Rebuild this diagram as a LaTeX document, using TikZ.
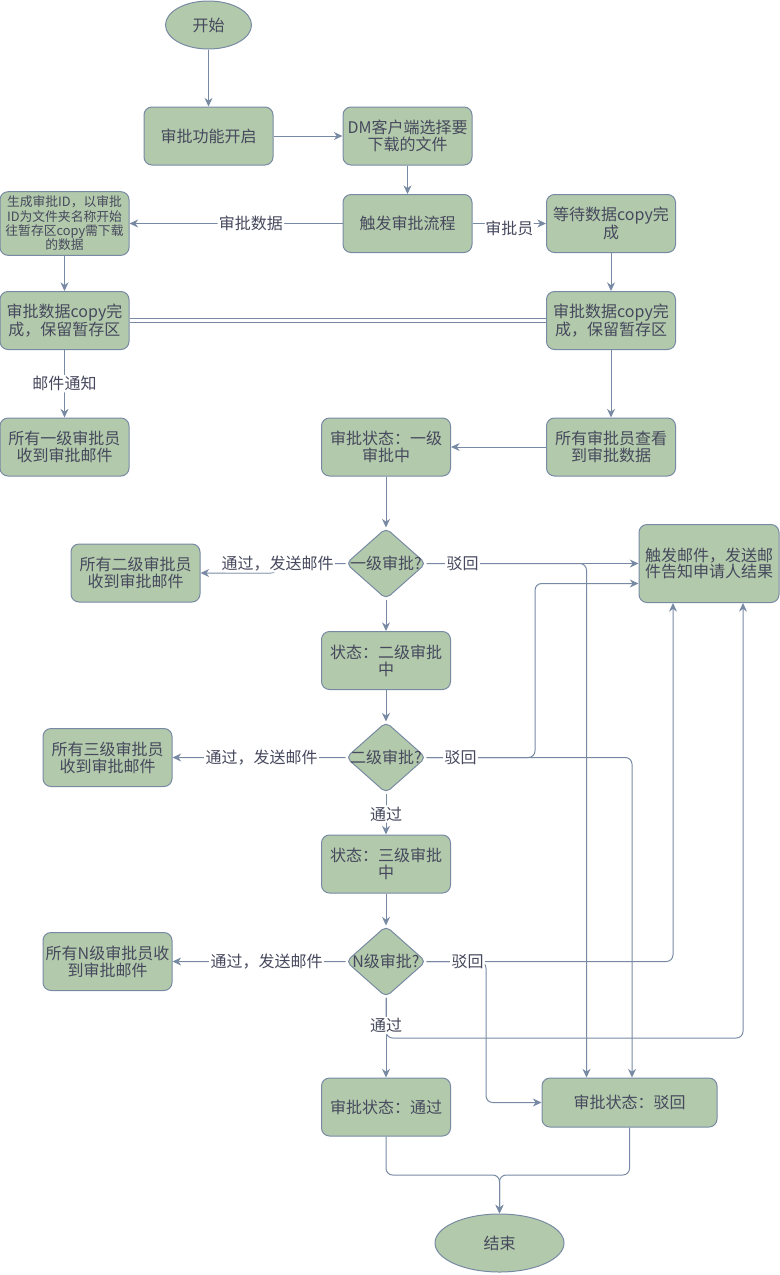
\documentclass[tikz,border=0pt]{standalone}
\usepackage{fontspec}
\setmainfont{Noto Sans CJK SC}
\usetikzlibrary{shapes.geometric,arrows.meta,calc}

\definecolor{boxfill}{HTML}{B2C9AB}
\definecolor{boxline}{HTML}{788AA3}
\definecolor{boxtext}{HTML}{46495D}

\begin{document}
\begin{tikzpicture}[x=0.75pt,y=-0.75pt,
  box/.style={draw=boxline,fill=boxfill,text=boxtext,rounded corners=6pt,line width=0.75pt,
    minimum width=96.75pt,minimum height=43.5pt,inner xsep=0pt,align=center,
    font=\fontsize{12pt}{12.6pt}\selectfont},
  oval/.style={box,shape=ellipse,inner sep=0pt},
  dia/.style={box,shape=diamond,minimum width=60pt,minimum height=53.25pt,inner sep=0pt,
    rounded corners=4pt,label={[text=boxtext,font=\fontsize{12pt}{12.6pt}\selectfont]center:#1}},
  lbl/.style={fill=white,text=boxtext,inner sep=1pt,font=\fontsize{12pt}{12.6pt}\selectfont},
  arr/.style={draw=boxline,line width=0.75pt,rounded corners=5pt,-{Stealth[length=6.5pt,width=6pt]}}]
\useasboundingbox (0,0) rectangle (779,1275);

% nodes
\node[oval,minimum width=64.5pt,minimum height=36pt] (start) at (208.5,25) {开始};
\node[box] (on) at (208.5,136) {审批功能开启};
\node[box] (dm) at (407.5,136) {DM客户端选择要\\下载的文件};
\node[box] (trig) at (407.5,223.5) {触发审批流程};
\node[box,font=\fontsize{9.6pt}{10.7pt}\selectfont] (gen) at (64.5,223.5) {生成审批ID，以审批\\ID为文件夹名称开始\\往暂存区copy需下载\\的数据};
\node[box] (wait) at (611,223.5) {等待数据copy完\\成};
\node[box] (cpL) at (64.5,320.5) {审批数据copy完\\成，保留暂存区};
\node[box] (cpR) at (611,320.5) {审批数据copy完\\成，保留暂存区};
\node[box] (l1) at (64.5,447) {所有一级审批员\\收到审批邮件};
\node[box] (s1) at (386,447) {审批状态：一级\\审批中};
\node[box] (view) at (611,447) {所有审批员查看\\到审批数据};
\node[dia=一级审批?] (d1) at (386,563.5) {};
\node[box] (l2) at (135.5,573) {所有二级审批员\\收到审批邮件};
\node[box,minimum width=105pt,minimum height=58.5pt] (mail) at (709,563.5) {触发邮件，发送邮\\件告知申请人结果};
\node[box] (s2) at (386,660.5) {状态：二级审批\\中};
\node[dia=二级审批?] (d2) at (386,757.5) {};
\node[box] (l3) at (107.5,757.5) {所有三级审批员\\收到审批邮件};
\node[box] (s3) at (386,864) {状态：三级审批\\中};
\node[dia=N级审批?] (dN) at (386,961.5) {};
\node[box] (lN) at (107.5,961.5) {所有N级审批员收\\到审批邮件};
\node[box] (pass) at (386,1107) {审批状态：通过};
\node[box,minimum width=131.25pt,minimum height=36.75pt] (rej) at (629.5,1102.5) {审批状态：驳回};
\node[oval] (end) at (499.5,1243) {结束};
\coordinate (j) at (499.5,1175);

% top part
\draw[arr] (start) -- (on);
\draw[arr] (on) -- (dm);
\draw[arr] (dm) -- (trig);
\draw[arr] (trig) -- node[lbl,pos=0.43]{审批数据} (gen);
\draw[arr] (trig) -- node[lbl,yshift=-4pt]{审批员} (wait);
\draw[arr] (gen) -- (cpL);
\draw[arr] (wait) -- (cpR);
\draw[draw=boxline,line width=0.75pt,double=white,double distance=2.5pt] (cpL) -- (cpR);
\draw[arr] (cpL) -- node[lbl]{邮件通知} (l1);
\draw[arr] (cpR) -- (view);
\draw[arr] (view) -- (s1);

% approval chain
\draw[arr] (s1) -- (d1);
\draw[arr] (d1) -- (s2);
\draw[arr] (s2) -- (d2);
\draw[arr] (d2) -- node[lbl]{通过} (s3);
\draw[arr] (s3) -- (dN);
\foreach \d/\b/\o in {d1/l2/68,d2/l3/84,dN/lN/79}
  \draw[arr] (\d.west) -- ++(-\o,0) node[lbl]{通过，发送邮件} |- (\b.east);

% rejected / mail
\draw[arr] (d1.east) -| ($(rej.north)+(-43,0)$);
\draw[arr] (d2.east) -- (535,757.5) |- ($(mail.west)+(0,20)$);
\draw[arr] (dN.east) -- (486,961.5) |- (rej.west);
\draw[arr] (dN.south) -- (386,1038) -| ($(mail.south)+(34,0)$);
\draw[arr] (d1.east) -- ++(36,0) node[lbl]{驳回} -- (mail.west);
\draw[arr] (d2.east) -- ++(34,0) node[lbl]{驳回} -| ($(rej.north)+(2.5,0)$);
\draw[arr] (dN.east) -- ++(41,0) node[lbl]{驳回} -| ($(mail.south)+(-36,0)$);
\draw[arr] (dN) -- node[lbl,pos=0.35]{通过} (pass);

% end
\draw[arr] (pass.south) |- (j) -- (end.north);
\draw[arr] (rej.south) |- (j) -- (end.north);
\end{tikzpicture}
\end{document}
